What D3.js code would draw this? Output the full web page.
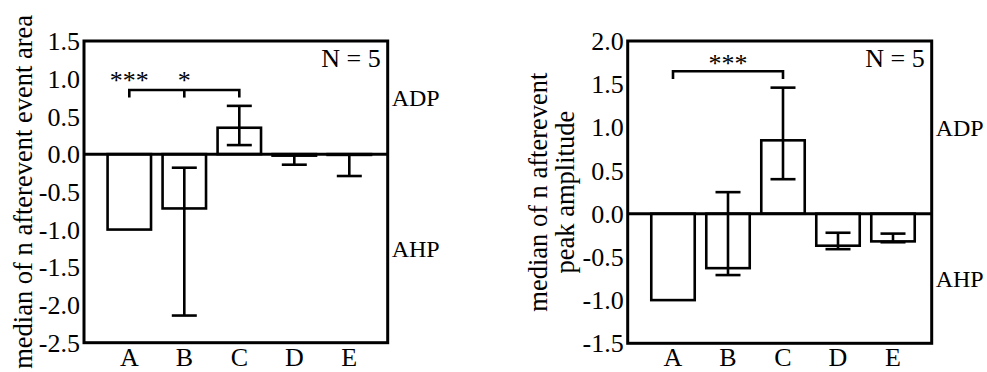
<!DOCTYPE html>
<html>
<head>
<meta charset="utf-8">
<script src="https://cdn.jsdelivr.net/npm/d3@7"></script>
<style>
  body { margin: 0; background: #fff; }
</style>
</head>
<body>
<div id="container"></div>
<script>
const w = 987;
const h = 372;

// shared categories
const groups = ['A', 'B', 'C', 'D', 'E'];

// left panel: event area
const areaMedian = [-1.0, -0.72, 0.35, -0.02, -0.01];
const areaErrHigh = [-1.0, -0.18, 0.64, -0.02, -0.01];
const areaErrLow = [-1.0, -2.14, 0.12, -0.14, -0.29];
const areaTicks = [1.5, 1.0, 0.5, 0.0, -0.5, -1.0, -1.5, -2.0, -2.5];

// right panel: peak amplitude
const peakMedian = [-1.0, -0.63, 0.85, -0.37, -0.32];
const peakErrHigh = [-1.0, 0.25, 1.46, -0.22, -0.23];
const peakErrLow = [-1.0, -0.71, 0.40, -0.41, -0.33];
const peakTicks = [2.0, 1.5, 1.0, 0.5, 0.0, -0.5, -1.0, -1.5];

const panels = [
  {
    left: 84, top: 41, right: 387.7, bottom: 342.7,
    domain: [-2.5, 1.5], ticks: areaTicks,
    median: areaMedian, hi: areaErrHigh, lo: areaErrLow,
    title: ['median of n afterevent event area'], titleX: 32,
    // bracket from A to C with a middle leg at B
    bracket: {from: 'A', to: 'C', mid: 'B', level: 0.85, leg: 0.1},
    stars: [{at: 'A', label: '***', level: 0.87}, {at: 'B', label: '*', level: 0.87}]
  },
  {
    left: 627.7, top: 41, right: 931.7, bottom: 343.3,
    domain: [-1.5, 2.0], ticks: peakTicks,
    median: peakMedian, hi: peakErrHigh, lo: peakErrLow,
    title: ['median of n afterevent', 'peak amplitude'], titleX: 547,
    bracket: {from: 'A', to: 'C', mid: null, level: 1.65, leg: 0.09},
    stars: [{at: 'AC', label: '***', level: 1.64}]
  }
];

const svg = d3.select('#container')
  .append('svg')
  .attr('width', w)
  .attr('height', h)
  .attr('viewBox', [0, 0, w, h])
  .attr('font-family', '"Liberation Serif", "Times New Roman", "DejaVu Serif", serif')
  .attr('fill', '#000');

panels.forEach(p => {
  const g = svg.append('g');

  const y = d3.scaleLinear()
    .domain(p.domain)
    .range([p.bottom, p.top]);

  const x = d3.scaleBand()
    .domain(groups)
    .range([p.left + 17.8, p.left + 292.8])
    .paddingInner(0.21)
    .paddingOuter(0.105);

  const cx = c => x(c) + x.bandwidth() / 2;

  // bars
  g.append('g')
    .selectAll('rect')
    .data(groups)
    .join('rect')
      .attr('x', c => x(c))
      .attr('width', x.bandwidth())
      .attr('y', (c, i) => y(Math.max(0, p.median[i])))
      .attr('height', (c, i) => Math.abs(y(p.median[i]) - y(0)))
      .attr('fill', '#fff')
      .attr('stroke', '#000')
      .attr('stroke-width', 2.6);

  // error bars
  const eb = g.append('g')
    .attr('stroke', '#000')
    .attr('stroke-width', 2.6)
    .attr('fill', 'none');
  groups.forEach((c, i) => {
    if (p.hi[i] === p.lo[i]) return;
    const xc = cx(c);
    eb.append('line')
      .attr('x1', xc).attr('x2', xc)
      .attr('y1', y(p.hi[i])).attr('y2', y(p.lo[i]));
    [p.hi[i], p.lo[i]].forEach(v => {
      if (v === p.median[i]) return;
      eb.append('line')
        .attr('x1', xc - 12.5).attr('x2', xc + 12.5)
        .attr('y1', y(v)).attr('y2', y(v));
    });
  });

  // zero line
  g.append('line')
    .attr('x1', p.left).attr('x2', p.right)
    .attr('y1', y(0)).attr('y2', y(0))
    .attr('stroke', '#000')
    .attr('stroke-width', 3);

  // frame
  g.append('rect')
    .attr('x', p.left).attr('y', p.top)
    .attr('width', p.right - p.left)
    .attr('height', p.bottom - p.top)
    .attr('fill', 'none')
    .attr('stroke', '#000')
    .attr('stroke-width', 3);

  // y tick labels
  g.append('g')
    .selectAll('text')
    .data(p.ticks)
    .join('text')
      .attr('x', p.left - 4)
      .attr('y', d => y(d))
      .attr('dy', '0.35em')
      .attr('text-anchor', 'end')
      .attr('font-size', 26)
      .text(d => d3.format('.1f')(d).replace('−', '-'));

  // x labels
  g.append('g')
    .selectAll('text')
    .data(groups)
    .join('text')
      .attr('x', c => cx(c))
      .attr('y', h - 6)
      .attr('text-anchor', 'middle')
      .attr('font-size', 26)
      .text(c => c);

  // significance bracket
  const b = p.bracket;
  const by = y(b.level);
  const byLeg = y(b.level - b.leg);
  const br = g.append('g')
    .attr('stroke', '#000')
    .attr('stroke-width', 2.6)
    .attr('fill', 'none');
  br.append('path')
    .attr('d', `M${cx(b.from)},${byLeg}V${by}H${cx(b.to)}V${byLeg}`);
  if (b.mid) {
    br.append('line')
      .attr('x1', cx(b.mid)).attr('x2', cx(b.mid))
      .attr('y1', by).attr('y2', byLeg);
  }

  p.stars.forEach(s => {
    const sx = s.at === 'AC' ? (cx('A') + cx('C')) / 2 : cx(s.at);
    g.append('text')
      .attr('x', sx)
      .attr('y', y(s.level))
      .attr('text-anchor', 'middle')
      .attr('font-size', 26)
      .text(s.label);
  });

  // N label
  g.append('text')
    .attr('x', p.right - 7)
    .attr('y', p.top + 26)
    .attr('text-anchor', 'end')
    .attr('font-size', 26)
    .text('N = 5');

  // ADP / AHP side labels
  g.append('text')
    .attr('x', p.right + 4)
    .attr('y', (p.top + y(0)) / 2)
    .attr('dy', '0.35em')
    .attr('font-size', 24)
    .text('ADP');
  g.append('text')
    .attr('x', p.right + 4)
    .attr('y', (p.bottom + y(0)) / 2)
    .attr('dy', '0.35em')
    .attr('font-size', 24)
    .text('AHP');

  // y axis title
  const cy = (p.top + p.bottom) / 2;
  const t = g.append('text')
    .attr('transform', `translate(${p.titleX},${cy}) rotate(-90)`)
    .attr('text-anchor', 'middle')
    .attr('font-size', 26.5);
  p.title.forEach((line, i) => {
    t.append('tspan')
      .attr('x', 0)
      .attr('dy', i === 0 ? 0 : 26.5)
      .text(line);
  });
});
</script>
</body>
</html>
